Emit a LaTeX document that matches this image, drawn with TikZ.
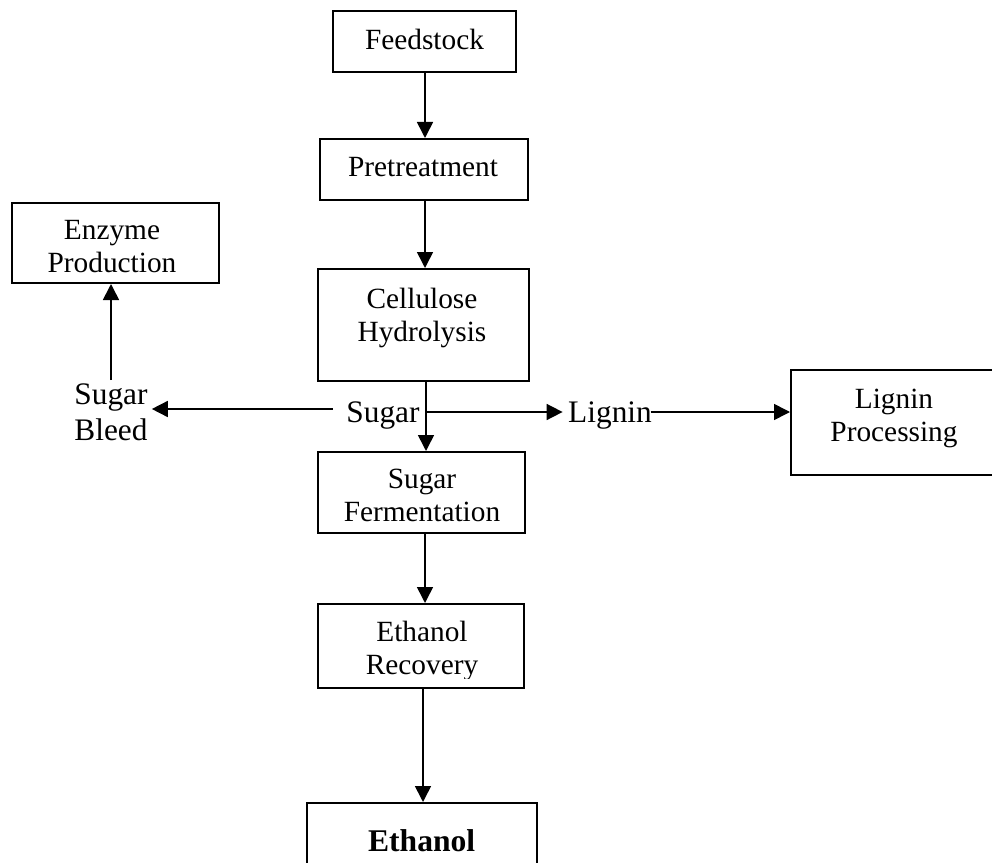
\documentclass[tikz,border=0pt]{standalone}
\usepackage{fontspec}
\setmainfont{Liberation Serif}
\usetikzlibrary{arrows.meta}
\begin{document}
\begin{tikzpicture}[x=0.75pt,y=-0.75pt,
  box/.style={draw,line width=1.5pt,inner sep=0pt},
  txt/.style={inner sep=0pt,align=center,text height=0.7em,text depth=0.22em,font=\fontsize{22}{25}\selectfont},
  lbl/.style={inner sep=0pt,align=center,text height=0.7em,text depth=0.22em,font=\fontsize{23.5}{27}\selectfont},
  arr/.style={line width=1.2pt,-{Triangle[length=12pt,width=12pt]}},
  ln/.style={line width=1.2pt}]
\clip (0,0) rectangle (992,863);
% boxes
\node[box,minimum width=183*0.75pt,minimum height=61*0.75pt] (feed) at (424.5,41.5) {};
\node[box,minimum width=208*0.75pt,minimum height=61*0.75pt] (pre) at (424,169.5) {};
\node[box,minimum width=207*0.75pt,minimum height=80*0.75pt] (enz) at (115,243) {};
\node[box,minimum width=211*0.75pt,minimum height=112*0.75pt] (cell) at (423.5,325) {};
\node[box,minimum width=240*0.75pt,minimum height=105*0.75pt] (lig) at (911,422.5) {};
\node[box,minimum width=207*0.75pt,minimum height=81*0.75pt] (ferm) at (421.5,492.5) {};
\node[box,minimum width=206*0.75pt,minimum height=84*0.75pt] (rec) at (421,646) {};
\node[box,minimum width=230*0.75pt,minimum height=100*0.75pt,anchor=north] (eth) at (422,802) {};
% texts
\node[txt] (feedT) at (424.5,46.5) {Feedstock};
\node[txt] (preT) at (423,173.5) {Pretreatment};
\node[txt] (enzT) at (112,269.5) {Enzyme\\Production};
\node[txt] (cellT) at (422,338.5) {Cellulose\\Hydrolysis};
\node[txt] (ligT) at (894,438.5) {Lignin\\Processing};
\node[txt] (fermT) at (422,518.5) {Sugar\\Fermentation};
\begin{scope}
\clip (318,600) rectangle (524,678.5);
\node[txt] (recT) at (422,671.5) {Ethanol\\Recovery};
\end{scope}
\node[txt,font=\fontsize{23.7}{25}\selectfont\bfseries] (ethT) at (421.7,848.5) {Ethanol};
% labels
\node[lbl] (sug) at (383,419.3) {Sugar};
\node[lbl] (bleed) at (111,437.3) {Sugar\\Bleed};
\node[lbl] (lgn) at (610,419.3) {Lignin};
\coordinate (j) at (426,412);
\coordinate (bleedtop) at (111,380);
% connectors
\draw[arr] (feed.south -| 425,0) -- (pre.north -| 425,0);
\draw[arr] (pre.south -| 425,0) -- (cell.north -| 425,0);
\draw[arr] (cell.south -| j) -- (ferm.north -| j);
\draw[arr] (j) -- ([xshift=-4pt]lgn.west |- j);
\draw[arr] ([xshift=-1pt]lgn.east |- j) -- (lig.west |- j);
\draw[arr] ([xshift=-10pt]sug.west |- 0,409) -- ([xshift=3pt]bleed.east |- 0,409);
\draw[arr] (bleedtop) -- (enz.south -| bleedtop);
\draw[arr] (ferm.south -| 425,0) -- (rec.north -| 425,0);
\draw[arr] (rec.south -| 423,0) -- (eth.north -| 423,0);
\end{tikzpicture}
\end{document}
